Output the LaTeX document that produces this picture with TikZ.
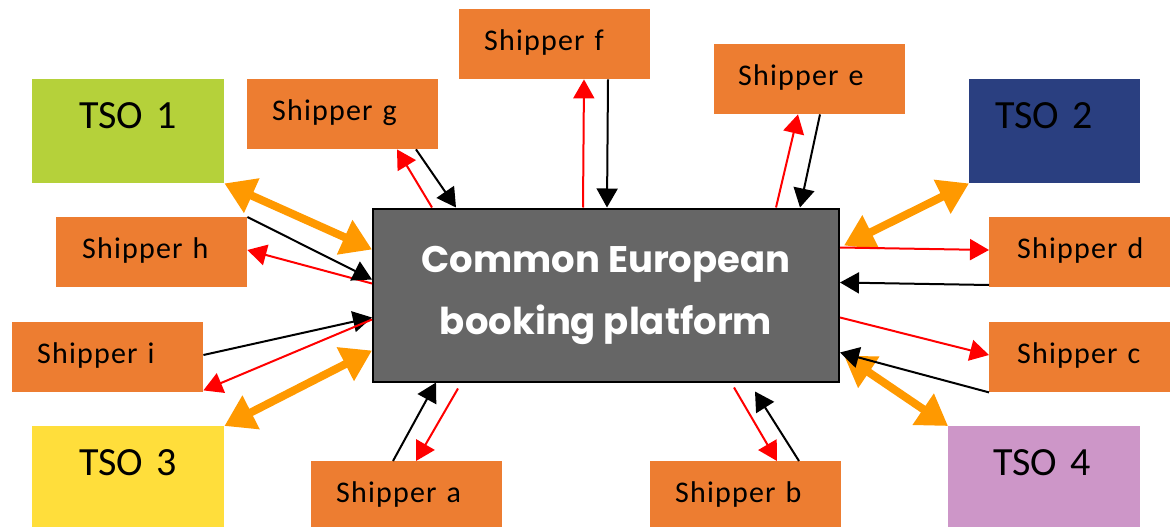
\documentclass[tikz,border=0pt]{standalone}
\usepackage{fontspec}
\setmainfont{Carlito}
\newfontfamily\shipfont{Carlito}[LetterSpace=4]
\newfontfamily\tsofont{Carlito}
\newfontfamily\platfont{Poppins}
\usetikzlibrary{arrows.meta}
\definecolor{shiporange}{RGB}{237,125,49}
\definecolor{tsogreen}{RGB}{181,209,58}
\definecolor{tsoblue}{RGB}{42,63,128}
\definecolor{tsoyellow}{RGB}{255,222,59}
\definecolor{tsopink}{RGB}{205,150,200}
\definecolor{platgrey}{RGB}{102,102,102}
\definecolor{arrorange}{RGB}{255,153,0}
\begin{document}
\begin{tikzpicture}[x=1pt,y=-1pt,
  box/.style={anchor=north west, inner sep=0pt, align=left},
  ship/.style={box, fill=shiporange, font=\shipfont\fontsize{30}{36}\selectfont,
    text width=#1, text height=41pt, text depth=29pt},
  shiplow/.style={ship=#1, text depth=25pt},
  tso/.style={box, font=\tsofont\fontsize{40}{48}\selectfont,
    text width=#1, text height=49pt, text depth=55pt},
  tsolow/.style={tso=#1, text depth=52pt},
  plat/.style={draw=black, line width=2pt, fill=platgrey, minimum width=466pt,
    minimum height=173pt, text=white, align=center,
    font=\platfont\bfseries\fontsize{37}{62}\selectfont},
  tocon/.style={red, line width=2pt, -{Triangle[length=19pt,width=21pt]}},
  fromcon/.style={black, line width=2pt, -{Triangle[length=19pt,width=21pt]}},
  tsoarrow/.style={arrorange, line width=8pt,
    {Triangle[length=30pt,width=36pt]}-{Triangle[length=30pt,width=36pt]}}
]
\useasboundingbox (0,0) rectangle (1170,527);

% platform
\node[plat] (plat) at (606,295) {Common European\\booking platform};

% TSOs
\node[tso=192pt, fill=tsogreen] (t1) at (32,79) {\hspace*{47pt}TSO 1};
\node[tso=171pt, fill=tsoblue] (t2) at (969,79) {\hspace*{26pt}TSO 2};
\node[tsolow=192pt, fill=tsoyellow] (t3) at (32,426) {\hspace*{47pt}TSO 3};
\node[tsolow=192pt, fill=tsopink] (t4) at (948,426) {\hspace*{45pt}TSO 4};

% shippers
\node[ship=191pt] (sf) at (459,9) {\hspace*{25pt}Shipper f};
\node[ship=191pt] (sg) at (247,79) {\hspace*{25pt}Shipper g};
\node[ship=191pt] (se) at (714,44) {\hspace*{24pt}Shipper e};
\node[ship=191pt] (sh) at (56,217) {\hspace*{26pt}Shipper h};
\node[ship=191pt] (si) at (12,322) {\hspace*{25pt}Shipper i};
\node[ship=181pt] (sd) at (989,217) {\hspace*{28pt}Shipper d};
\node[ship=181pt] (sc) at (989,322) {\hspace*{28pt}Shipper c};
\node[shiplow=191pt] (sa) at (311,461) {\hspace*{25pt}Shipper a};
\node[shiplow=191pt] (sb) at (650,461) {\hspace*{25pt}Shipper b};

% TSO links
\draw[tsoarrow] (t1.south east) -- ([yshift=-42pt]plat.north west);
\draw[tsoarrow] (t2.south west) -- ([xshift=4pt,yshift=-38pt]plat.north east);
\draw[tsoarrow] (t3.north east) -- ([yshift=-143pt]plat.north west);
\draw[tsoarrow] (t4.north west) -- ([xshift=4pt,yshift=-148pt]plat.north east);

% shipper g
\draw[tocon] ([xshift=60pt]plat.north west) -- ([xshift=150pt]sg.south west);
\draw[fromcon] ([xshift=169pt]sg.south west) -- ([xshift=84pt]plat.north west);
% shipper f
\draw[tocon] ([xshift=211pt]plat.north west) -- ([xshift=125pt]sf.south west);
\draw[fromcon] ([xshift=149pt]sf.south west) -- ([xshift=235pt]plat.north west);
% shipper e
\draw[tocon] ([xshift=404pt]plat.north west) -- ([xshift=84pt]se.south west);
\draw[fromcon] ([xshift=106pt]se.south west) -- ([xshift=428pt]plat.north west);
% shipper h
\draw[tocon] ([yshift=-76pt]plat.north west) -- ([yshift=-33pt]sh.north east);
\draw[fromcon] (sh.north east) -- ([yshift=-72pt]plat.north west);
% shipper i
\draw[fromcon] ([yshift=-33pt]si.north east) -- ([yshift=-110pt]plat.north west);
\draw[tocon] ([yshift=-112pt]plat.north west) -- ([yshift=2pt]si.south east);
% shipper a
\draw[fromcon] ([xshift=82pt]sa.north west) -- ([xshift=64pt]plat.south west);
\draw[tocon] ([xshift=86pt,yshift=-6pt]plat.south west) -- ([xshift=105pt]sa.north west);
% shipper b
\draw[tocon] ([xshift=362pt,yshift=-5pt]plat.south west) -- ([xshift=127pt]sb.north west);
\draw[fromcon] ([xshift=149pt]sb.north west) -- ([xshift=383pt,yshift=-9pt]plat.south west);
% shipper d
\draw[tocon] ([yshift=-40pt]plat.north east) -- ([yshift=-33pt]sd.north west);
\draw[fromcon] ([yshift=-68pt]sd.north west) -- ([yshift=-75pt]plat.north east);
% shipper c
\draw[tocon] ([yshift=-110pt]plat.north east) -- ([yshift=-33pt]sc.north west);
\draw[fromcon] (sc.south west) -- ([yshift=-145pt]plat.north east);
\end{tikzpicture}
\end{document}
